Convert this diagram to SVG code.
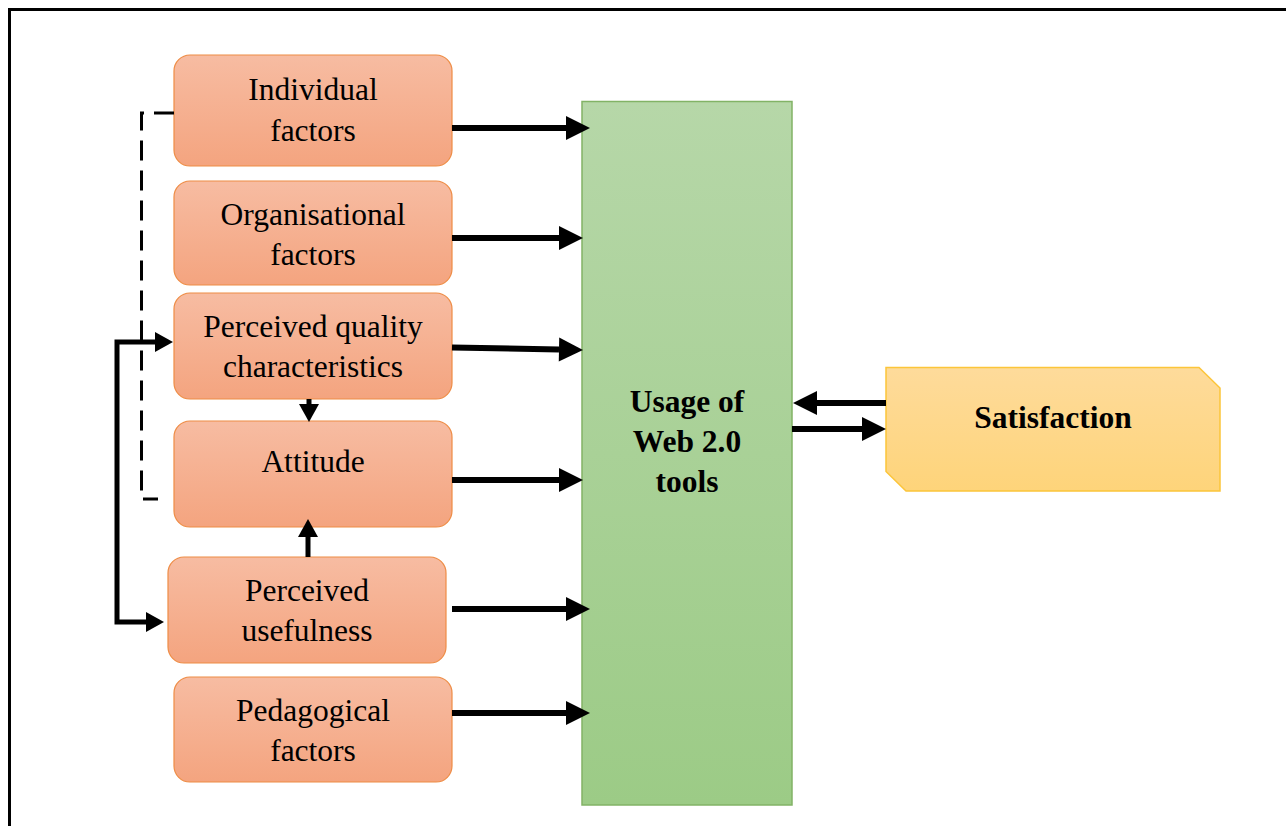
<svg xmlns="http://www.w3.org/2000/svg" width="1286" height="826" viewBox="0 0 1286 826">
  <defs>
    <linearGradient id="gOrange" x1="0" y1="0" x2="0" y2="1">
      <stop offset="0" stop-color="#f7bca2"/>
      <stop offset="1" stop-color="#f4a47f"/>
    </linearGradient>
    <linearGradient id="gGreen" x1="0" y1="0" x2="0" y2="1">
      <stop offset="0" stop-color="#b6d7a8"/>
      <stop offset="1" stop-color="#9ccb86"/>
    </linearGradient>
    <linearGradient id="gYellow" x1="0" y1="0" x2="0" y2="1">
      <stop offset="0" stop-color="#fedb9b"/>
      <stop offset="1" stop-color="#fed47a"/>
    </linearGradient>
    <!-- arrowheads start at the end of the shaft and point forward -->
    <marker id="head" viewBox="0 0 24 24" markerUnits="userSpaceOnUse" markerWidth="24" markerHeight="24" refX="0" refY="12" orient="auto" overflow="visible">
      <path d="M0,0 L24,12 L0,24 Z" fill="#000"/>
    </marker>
    <marker id="headS" viewBox="0 0 18 20" markerUnits="userSpaceOnUse" markerWidth="18" markerHeight="20" refX="0" refY="10" orient="auto-start-reverse" overflow="visible">
      <path d="M0,0 L18,10 L0,20 Z" fill="#000"/>
    </marker>
  </defs>
  <style>
    .factor { fill: url(#gOrange); stroke: #ee8c45; stroke-width: 1.2; }
    .lbl { font-family: "Liberation Serif", "Times New Roman", serif; font-size: 31.5px; fill: #000; text-anchor: middle; }
    .bold { font-weight: bold; }
    .arrow { fill: none; stroke: #000; stroke-width: 6; marker-end: url(#head); }
    .thin { fill: none; stroke: #000; stroke-width: 5; marker-end: url(#headS); }
    .dash { fill: none; stroke: #000; stroke-width: 3; stroke-dasharray: 20 10; }
  </style>

  <rect width="1286" height="826" fill="#fff"/>
  <!-- page frame -->
  <path d="M9.5,826 V9.5 H1286" fill="none" stroke="#000" stroke-width="3"/>

  <g id="usage">
    <rect x="582" y="101.5" width="210" height="703.5" fill="url(#gGreen)" stroke="#82b366" stroke-width="1.5"/>
    <text class="lbl bold" x="687" y="412">Usage of</text>
    <text class="lbl bold" x="687" y="452">Web 2.0</text>
    <text class="lbl bold" x="687" y="492">tools</text>
  </g>

  <g id="satisfaction">
    <path d="M886,367.5 H1199 L1220,388 V491 H906 L886,471.5 Z" fill="url(#gYellow)" stroke="#fcc53a" stroke-width="1.5"/>
    <text class="lbl bold" x="1053" y="428">Satisfaction</text>
  </g>

  <g id="individual">
    <rect class="factor" x="174" y="55" width="278" height="111" rx="16"/>
    <text class="lbl" x="313" y="100">Individual</text>
    <text class="lbl" x="313" y="141">factors</text>
  </g>

  <g id="organisational">
    <rect class="factor" x="174" y="181" width="278" height="104" rx="16"/>
    <text class="lbl" x="313" y="225">Organisational</text>
    <text class="lbl" x="313" y="265">factors</text>
  </g>

  <g id="quality">
    <rect class="factor" x="174" y="293" width="278" height="106" rx="16"/>
    <text class="lbl" x="313" y="337">Perceived quality</text>
    <text class="lbl" x="313" y="377">characteristics</text>
  </g>

  <g id="attitude">
    <rect class="factor" x="174" y="421" width="278" height="106" rx="16"/>
    <text class="lbl" x="313" y="472">Attitude</text>
  </g>

  <g id="usefulness">
    <rect class="factor" x="168" y="557" width="278" height="106" rx="16"/>
    <text class="lbl" x="307" y="601">Perceived</text>
    <text class="lbl" x="307" y="641">usefulness</text>
  </g>

  <g id="pedagogical">
    <rect class="factor" x="174" y="677" width="278" height="105" rx="16"/>
    <text class="lbl" x="313" y="721">Pedagogical</text>
    <text class="lbl" x="313" y="761">factors</text>
  </g>

  <g id="connectors">
    <!-- factors into usage -->
    <path class="arrow" d="M452,128 H566"/>
    <path class="arrow" d="M452,238 H559"/>
    <path class="arrow" d="M452,347.5 L559,349.5"/>
    <path class="arrow" d="M452,480 H559"/>
    <path class="arrow" d="M452,609 H566"/>
    <path class="arrow" d="M452,713 H566"/>
    <!-- usage and satisfaction -->
    <path class="arrow" d="M886,403 H817"/>
    <path class="arrow" d="M792,429 H862"/>
    <!-- into attitude -->
    <path class="thin" d="M309,399 V404"/>
    <path class="thin" d="M308,557 V537"/>
    <!-- quality and usefulness, arrows at both ends -->
    <path class="thin" d="M155,342 H117 V622 H146" marker-start="url(#headS)"/>
    <!-- dashed bracket -->
    <path class="dash" d="M174,113 H141.5 V499 H158"/>
  </g>
</svg>
